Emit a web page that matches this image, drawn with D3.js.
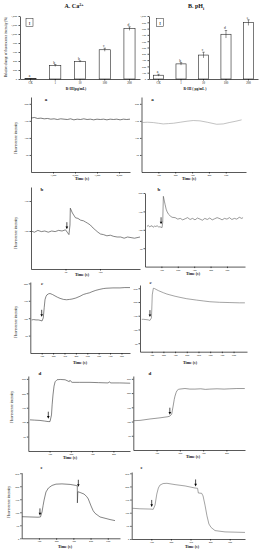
<!DOCTYPE html>
<html>
<head>
<meta charset="utf-8">
<script src="https://cdn.jsdelivr.net/npm/d3@7"></script>
<style>
body { margin: 0; background: #fff; }
svg { display: block; }
text { font-family: "Liberation Serif", "DejaVu Serif", serif; fill: #111; }
</style>
</head>
<body>
<svg id="canvas" width="259" height="550"></svg>
<script>
// bar charts (top row)
const barCats = ['CK', '1', '10', '100', '200'];
const caBar = [8, 300, 390, 650, 1120];
const caErr = [4, 22, 15, 35, 40];
const caLetters = ['a', 'b', 'b', 'c', 'd'];
const phBar = [60, 240, 380, 710, 895];
const phErr = [15, 20, 45, 60, 45];
const phLetters = ['a', 'b', 'c', 'd', 'e'];
const caBarTicks = [0, 200, 400, 600, 800, 1000, 1200, 1400];
const phBarTicks = [0, 100, 200, 300, 400, 500, 600, 700, 800, 900, 1000];

// traces, [time (s), fluorescence]
const caTraceA = [[0,158],[150,160],[300,157],[450,158],[600,156],[750,157],[900,155],[1050,156],[1200,154],[1350,156],[1500,155],[1650,154],[1800,156],[1950,153],[2100,155],[2250,154],[2400,156],[2550,154],[2700,155],[2850,153],[3000,155],[3150,154],[3300,155],[3450,153],[3600,155],[3750,154],[3900,155],[4050,153],[4200,155],[4350,154],[4500,155]];
const phTraceA = [[0,145],[35,146],[70,145],[100,143],[129,141],[160,142],[189,143],[230,146],[270,149],[307,151],[347,150],[390,146],[446,140],[485,141],[520,145],[560,149],[594,153]];
const caTraceB = [[0,100],[5,98],[10,101],[15,99],[20,100],[25,98],[30,100],[35,99],[40,101],[45,100],[50,102],[52.5,98],[55,94],[56.5,110],[57,138],[60,130],[64.5,122],[68,121],[72,118],[76,117],[79,115],[82,113],[86,110],[90,105],[93,102],[97,98],[100.7,95],[105,94],[110,92],[115,93],[120,91],[125,90],[130,90],[135,88],[140,90],[145,89],[150,88],[158,90]];
const phTraceB = [[12,109],[20,112],[28,108],[36,110],[43,111],[50,107],[58,110],[66,109],[74,111],[82,108],[92,108],[104,106],[108,120],[112,191],[118,178],[123,168],[129,156],[135,149],[144,142],[153,138],[165,134],[184,133],[200,129],[215,131],[230,127],[245,130],[260,133],[275,128],[290,131],[305,127],[320,132],[336,129],[350,126],[365,131],[380,128],[395,132],[410,127],[425,130],[440,133],[458,130],[470,127],[485,131],[500,129],[515,133],[530,128],[545,131],[560,129],[575,134],[590,131],[598,133]];
const caTraceC = [[12,95],[30,96],[50,95],[70,95],[85,94],[103,92],[114,101],[122,130],[129,153],[137,162],[146,167],[160,170],[173,171],[195,168],[217,164],[240,160],[261,157],[290,154],[319,153],[345,154],[366,155],[400,158],[436,163],[465,168],[495,171],[520,173],[541,176],[575,180],[611,183],[640,185],[664,186],[725,187],[787,187],[830,188],[875,188]];
const phTraceC = [[15,137],[30,137],[51,136],[70,135],[85,133],[98,142],[105,226],[114,250],[125,249],[137,246],[160,241],[199,234],[230,229],[256,226],[300,221],[342,217],[400,212],[485,207],[540,204],[598,201],[680,199],[769,198],[850,197],[897,197]];
const caTraceD = [[8,108],[30,107],[55,106],[75,104],[93,102],[102,102],[109,125],[112,160],[116,194],[121,225],[126,240],[135,247],[150,248],[173,247],[188,242],[192,240],[196,245],[200,241],[206,238],[240,238],[290,238],[330,237],[375,236],[382,240],[386,236],[430,236],[479,235]];
const phTraceD = [[1,103],[29,104],[72,109],[115,113],[149,117],[157,119],[165,126],[168,140],[172,158],[176,178],[179,189],[184,202],[188,209],[194,213],[200,214],[222,216],[243,214],[265,214],[290,215],[310,213],[329,214],[360,215],[390,214],[415,215],[445,216],[479,216]];
const caTraceE = [[2,83],[48,82],[95,81],[109,82],[118,101],[124,125],[130,147],[141,178],[155,193],[176,203],[199,208],[234,209],[281,207],[316,203],[323,201],[323.5,136],[326,179],[339,176],[362,170],[378,160],[387,151],[403,124],[415,106],[426,96],[455,82],[484,77],[513,72],[542,68]];
const phTraceE = [[2,117],[42,115],[93,114],[110,113],[119,129],[128,171],[136,194],[144,205],[160,211],[180,212],[221,207],[272,202],[323,194],[336,193],[340,175],[357,174],[364,164],[374,129],[384,88],[394,57],[405,44],[425,32],[476,27],[578,25]];

// arrow tips [time, value]
const caArrowsB = [[52, 103]];
const phArrowsB = [[98, 115]];
const caArrowsC = [[100, 104]];
const phArrowsC = [[85, 145]];
const caArrowsD = [[94, 112]];
const phArrowsD = [[157, 124]];
const caArrowsE = [[106, 88], [329, 198]];
const phArrowsE = [[102, 122], [326, 200]];

// tick labels
const ticksA_x = [1000, 2000, 3000, 4000];
const ticksPhA_x = [100, 200, 300, 400, 500];
const ticksB_x = [50, 100];
const ticks8_x = [100, 200, 300, 400, 500, 600, 700, 800];
const ticks4_x = [100, 200, 300, 400];
const ticks5_x = [100, 200, 300, 400, 500];
const ticks200_y = [50, 100, 150, 200];
const ticks250_y = [50, 100, 150, 200, 250];
const ticks250z_y = [0, 50, 100, 150, 200, 250];
const ticksCaB_y = [100, 150];

const svg = d3.select('#canvas');

const styleAxis = (g, size) => {
    g.selectAll('path, line').attr('stroke', '#111').attr('stroke-width', 0.7);
    g.selectAll('text').attr('font-size', size).attr('fill', '#333');
};

// ---------- bar charts ----------
const drawBars = (cfg) => {
    const x = d3.scaleBand().domain(barCats).range([cfg.x0, cfg.x1]).paddingInner(0.55).paddingOuter(0.2);
    const y = d3.scaleLinear().domain([0, cfg.yMax]).range([79, 16]);
    const g = svg.append('g');

    g.selectAll('rect.bar')
        .data(cfg.values)
        .enter()
        .append('rect')
        .attr('x', (d, i) => x(barCats[i]))
        .attr('y', d => y(d))
        .attr('width', x.bandwidth())
        .attr('height', d => y(0) - y(d))
        .attr('fill', '#fff')
        .attr('stroke', '#222')
        .attr('stroke-width', 0.6);

    const eb = g.selectAll('g.err').data(cfg.values).enter().append('g');
    eb.append('line')
        .attr('x1', (d, i) => x(barCats[i]) + x.bandwidth() / 2)
        .attr('x2', (d, i) => x(barCats[i]) + x.bandwidth() / 2)
        .attr('y1', (d, i) => y(d - cfg.err[i]))
        .attr('y2', (d, i) => y(d + cfg.err[i]))
        .attr('stroke', '#222').attr('stroke-width', 0.5);
    eb.append('line')
        .attr('x1', (d, i) => x(barCats[i]) + x.bandwidth() / 2 - 1.2)
        .attr('x2', (d, i) => x(barCats[i]) + x.bandwidth() / 2 + 1.2)
        .attr('y1', (d, i) => y(d + cfg.err[i]))
        .attr('y2', (d, i) => y(d + cfg.err[i]))
        .attr('stroke', '#222').attr('stroke-width', 0.5);
    eb.append('text')
        .attr('x', (d, i) => x(barCats[i]) + x.bandwidth() / 2 - 1)
        .attr('y', (d, i) => y(d + cfg.err[i]) - 1)
        .attr('font-size', 3.6)
        .attr('text-anchor', 'middle')
        .text((d, i) => cfg.letters[i]);

    const ya = g.append('g')
        .attr('transform', `translate(${cfg.x0},0)`)
        .call(d3.axisLeft(y).tickValues(cfg.ticks).tickSize(1.5).tickSizeOuter(0).tickPadding(1.5));
    styleAxis(ya, 2.6);
    const xa = g.append('g')
        .attr('transform', 'translate(0,79)')
        .call(d3.axisBottom(x).tickSize(1.5).tickSizeOuter(0).tickPadding(1.5));
    styleAxis(xa, 3);

    // box with roman numeral
    g.append('rect').attr('x', cfg.boxX).attr('y', 18.5).attr('width', 7).attr('height', 8)
        .attr('fill', 'none').attr('stroke', '#222').attr('stroke-width', 0.5);
    g.append('text').attr('x', cfg.boxX + 3.5).attr('y', 24.8).attr('font-size', 5)
        .attr('text-anchor', 'middle').text('I');

    g.append('text').attr('x', cfg.xTitleX).attr('y', 89.5).attr('font-size', 3.6)
        .attr('font-weight', 'bold').attr('text-anchor', 'middle').text(cfg.xTitle);
};

drawBars({ x0: 20, x1: 140, yMax: 1400, values: caBar, err: caErr, letters: caLetters, ticks: caBarTicks, boxX: 26, xTitle: 'R-III(μg/mL)', xTitleX: 76 });
drawBars({ x0: 149, x1: 258, yMax: 1000, values: phBar, err: phErr, letters: phLetters, ticks: phBarTicks, boxX: 156.5, xTitle: 'R-III ( μg/mL )', xTitleX: 195 });

svg.append('text').attr('transform', 'translate(6.5,47) rotate(-90)')
    .attr('font-size', 3.3).attr('text-anchor', 'middle')
    .text('Relative change of fluorescence intensity (%)');

const tA = svg.append('text').attr('x', 74).attr('y', 8).attr('font-size', 6).attr('font-weight', 'bold').attr('text-anchor', 'middle');
tA.append('tspan').text('A. Ca');
tA.append('tspan').attr('font-size', 4).attr('dy', -2.2).text('2+');
const tB = svg.append('text').attr('x', 196).attr('y', 8).attr('font-size', 6).attr('font-weight', 'bold').attr('text-anchor', 'middle');
tB.append('tspan').text('B. pH');
tB.append('tspan').attr('font-size', 4).attr('dy', 1.5).text('i');

// ---------- trace panels ----------
const panels = [
    { trace: caTraceA, arrows: [], letter: 'a', x0: 31, x1: 130, top: 97, bottom: 172, xDom: [0, 4500], yDom: [0, 220], xTicks: ticksA_x, yTicks: ticks200_y, color: '#222', yTitle: [17, 138], lx: 46, ly: 101, tx: 82, ty: 180 },
    { trace: phTraceA, arrows: [], letter: 'a', x0: 141.5, x1: 246, top: 97, bottom: 172, xDom: [0, 620], yDom: [0, 220], xTicks: ticksPhA_x, yTicks: ticks200_y, color: '#999', yTitle: null, lx: 152.5, ly: 101, tx: 189, ty: 180 },
    { trace: caTraceB, arrows: caArrowsB, letter: 'b', x0: 31, x1: 140, top: 187, bottom: 269, xDom: [0, 158], yDom: [36.7, 173.3], xTicks: ticksB_x, yTicks: ticksCaB_y, color: '#333', yTitle: [17, 233], lx: 42, ly: 191, tx: 82, ty: 276 },
    { trace: phTraceB, arrows: phArrowsB, letter: 'b', x0: 145, x1: 245, top: 193, bottom: 266.6, xDom: [0, 610], yDom: [0, 200], xTicks: ticksPhA_x, yTicks: ticks200_y, color: '#555', yTitle: null, lx: 159, ly: 191, tx: 193, ty: 275 },
    { trace: caTraceC, arrows: caArrowsC, letter: 'c', x0: 30.3, x1: 130, top: 282, bottom: 353, xDom: [0, 875], yDom: [0, 204], xTicks: ticks8_x, yTicks: ticks200_y, color: '#333', yTitle: [17, 322], lx: 42, ly: 285, tx: 80, ty: 364 },
    { trace: phTraceC, arrows: phArrowsC, letter: 'c', x0: 140, x1: 247, top: 285, bottom: 351.7, xDom: [0, 915], yDom: [19, 262], xTicks: ticks8_x, yTicks: ticks250_y, color: '#666', yTitle: null, lx: 150.5, ly: 284, tx: 190, ty: 364 },
    { trace: caTraceD, arrows: caArrowsD, letter: 'd', x0: 28.3, x1: 130, top: 376, bottom: 451, xDom: [0, 478], yDom: [0, 260], xTicks: ticks4_x, yTicks: ticks250_y, color: '#333', yTitle: [13, 407], lx: 40, ly: 375, tx: 70, ty: 459 },
    { trace: phTraceD, arrows: phArrowsD, letter: 'd', x0: 133.3, x1: 245, top: 376, bottom: 450, xDom: [0, 480], yDom: [0, 260], xTicks: ticks4_x, yTicks: ticks250_y, color: '#555', yTitle: null, lx: 150, ly: 375, tx: 193, ty: 458 },
    { trace: caTraceE, arrows: caArrowsE, letter: 'e', x0: 21.7, x1: 120, top: 472.7, bottom: 538.3, xDom: [0, 571], yDom: [0, 252], xTicks: ticks5_x, yTicks: ticks250z_y, color: '#333', yTitle: [10, 502], lx: 41.7, ly: 468.5, tx: 65, ty: 548 },
    { trace: phTraceE, arrows: phArrowsE, letter: 'e', x0: 131.7, x1: 245, top: 472, bottom: 539, xDom: [0, 578], yDom: [0, 255], xTicks: ticks5_x, yTicks: ticks250z_y, color: '#666', yTitle: null, lx: 141.7, ly: 468.5, tx: 192, ty: 548 }
];

const drawPanel = (p) => {
    const x = d3.scaleLinear().domain(p.xDom).range([p.x0, p.x1]);
    const y = d3.scaleLinear().domain(p.yDom).range([p.bottom, p.top]);
    const g = svg.append('g');

    const ya = g.append('g')
        .attr('transform', `translate(${p.x0},0)`)
        .call(d3.axisLeft(y).tickValues(p.yTicks).tickSize(1.5).tickSizeOuter(0).tickPadding(1));
    styleAxis(ya, 2.6);
    const xa = g.append('g')
        .attr('transform', `translate(0,${p.bottom})`)
        .call(d3.axisBottom(x).tickValues(p.xTicks).tickSize(1.5).tickSizeOuter(0).tickPadding(0.6));
    styleAxis(xa, 2.6);

    const line = d3.line().x(d => x(d[0])).y(d => y(d[1]));
    g.append('path')
        .datum(p.trace)
        .attr('d', line)
        .attr('fill', 'none')
        .attr('stroke', p.color)
        .attr('stroke-width', 0.6);

    p.arrows.forEach(a => {
        const ax = x(a[0]);
        const ay = y(a[1]);
        g.append('line').attr('x1', ax).attr('x2', ax).attr('y1', ay - 7).attr('y2', ay - 2)
            .attr('stroke', '#000').attr('stroke-width', 0.7);
        g.append('path').attr('d', `M${ax - 1.3},${ay - 2.6}L${ax + 1.3},${ay - 2.6}L${ax},${ay}Z`)
            .attr('fill', '#000');
    });

    g.append('text').attr('x', p.lx).attr('y', p.ly).attr('font-size', 5).attr('font-weight', 'bold')
        .attr('text-anchor', 'middle').text(p.letter);
    g.append('text').attr('x', p.tx).attr('y', p.ty).attr('font-size', 4).attr('font-weight', 'bold')
        .attr('text-anchor', 'middle').text('Time (s)');
    if (p.yTitle) {
        g.append('text').attr('transform', `translate(${p.yTitle[0]},${p.yTitle[1]}) rotate(-90)`)
            .attr('font-size', 3.6).attr('text-anchor', 'middle').attr('fill', '#444')
            .text('Fluorescence intensity');
    }
};

panels.forEach(drawPanel);
</script>
</body>
</html>
